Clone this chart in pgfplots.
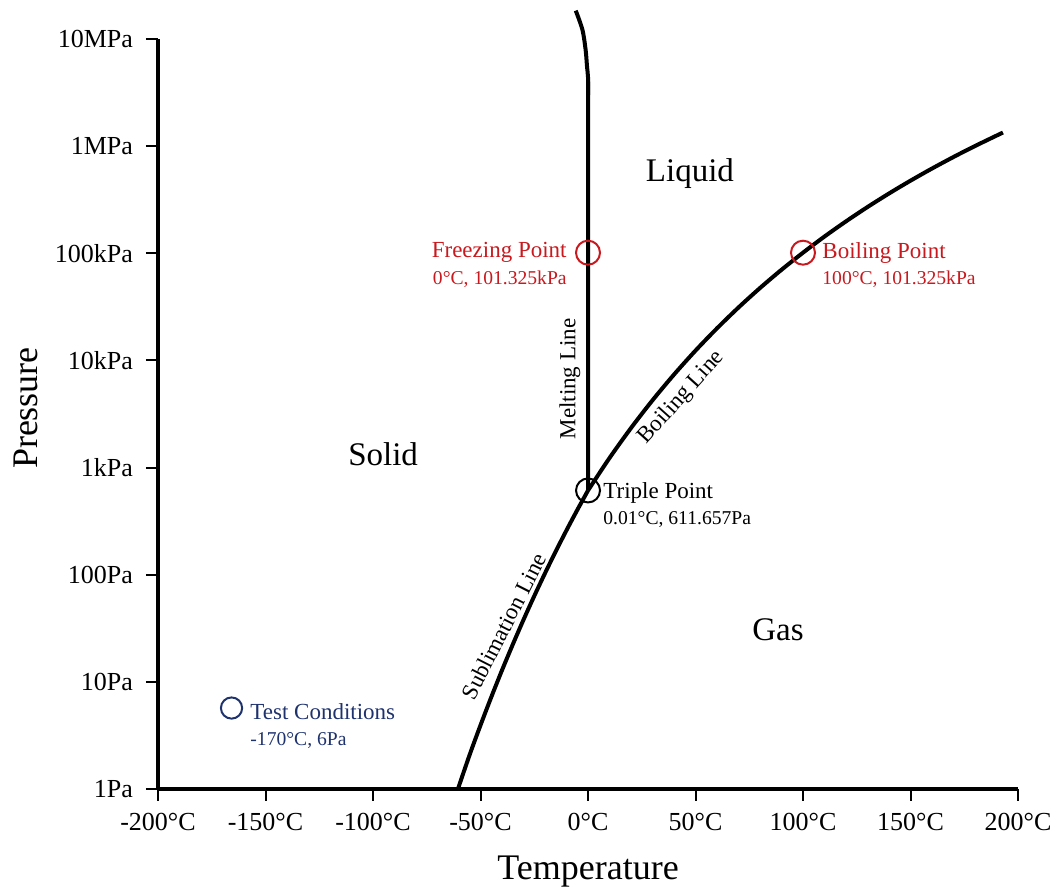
\documentclass[border=0pt]{standalone}
\usepackage{pgfplots}
\pgfplotsset{compat=1.18}
\usepackage{fontspec}
\setmainfont{Liberation Serif}
\definecolor{fpred}{RGB}{200,25,30}
\definecolor{tcnavy}{RGB}{30,50,110}
\newcommand{\ticksize}{\fontsize{13}{15}\selectfont}
\newcommand{\regsize}{\fontsize{16.5}{19}\selectfont}
\newcommand{\notesize}{\fontsize{11.5}{13}\selectfont}
\newcommand{\subsize}{\fontsize{9.8}{11}\selectfont}

\begin{document}
\begin{tikzpicture}[x=1pt,y=1pt]
\begin{axis}[
    at={(0,0)}, anchor=south west,
    scale only axis,
    width=430pt, height=375pt,
    xmin=-200, xmax=200,
    ymode=log, ymin=1, ymax=1e7,
    axis lines=left,
    axis line style={-, line width=2.1pt},
    tick align=outside,
    major tick length=6pt,
    yminorticks=false,
    every tick/.style={black, line width=1pt},
    xtick={-200,-150,...,200},
    xticklabels={-200°C,-150°C,-100°C,-50°C,0°C,50°C,100°C,150°C,200°C},
    ytick={1,10,100,1000,10000,100000,1000000,10000000},
    yticklabels={1Pa,10Pa,100Pa,1kPa,10kPa,100kPa,1MPa,10MPa},
    tick label style={font=\ticksize},
    xticklabel style={yshift=-2.5pt},
    yticklabel style={xshift=-3pt},
    xlabel={Temperature}, ylabel={Pressure},
    label style={font=\fontsize{18}{20}\selectfont},
    xlabel style={at={(axis description cs:0.5,-0.11)}, anchor=center},
    ylabel style={at={(axis description cs:-0.154,0.508)}, anchor=center},
    clip=false,
]
% sublimation line
\addplot[black, line width=2pt, smooth] coordinates {
(-60.5,1) (-55,2.1) (-50,3.94) (-45,7.2) (-40,12.84) (-35,22.3) (-30,38.0)
(-25,63.3) (-20,103.2) (-15,165.3) (-10,259.9) (-5,401.7) (0.01,611.657)};
% boiling line
\addplot[black, line width=2pt, smooth] coordinates {
(0.01,611.657) (10,1228) (20,2339) (30,4247) (40,7384) (50,12352) (60,19946)
(70,31201) (80,47414) (90,70182) (100,101325) (110,143380) (120,198670)
(130,270280) (140,361540) (150,476160) (160,618230) (170,792180)
(180,1002800) (193,1340000)};
% melting line
\addplot[black, line width=2pt] coordinates {(0.01,611.657) (0,4.0e6)};
\addplot[black, line width=2pt, smooth] coordinates {
(0,3.0e6) (0,4.4e6) (-0.45,5.5e6) (-1.1,7.9e6) (-2.6,1.22e7) (-5.7,1.84e7)};
% points
\addplot[only marks, mark=o, mark size=6pt, fpred, mark options={line width=1pt}]
  coordinates {(0,101325) (100,101325)};
\addplot[only marks, mark=o, mark size=6pt, black, mark options={line width=1pt}]
  coordinates {(0.01,611.657)};
\addplot[only marks, mark=o, mark size=5.3pt, tcnavy, mark options={line width=1pt}]
  coordinates {(-165.8,5.7)};

% region labels
\node[font=\regsize] at (axis cs:47.4,5.6e5) {Liquid};
\node[font=\regsize] at (axis cs:-95.3,1.32e3) {Solid};
\node[font=\regsize] at (axis cs:88.4,30.5) {Gas};
% line labels
\node[font=\notesize, rotate=90] at (axis cs:-8.4,6.7e3) {Melting Line};
\node[font=\notesize, rotate=48] at (axis cs:43.5,4.5e3) {Boiling Line};
\node[font=\notesize, rotate=63] at (axis cs:-39.2,33) {Sublimation Line};
% annotations
\node[font=\notesize, text=fpred, anchor=east, inner sep=0pt, xshift=-10.5pt] at (axis cs:0,101325) {Freezing Point};
\node[font=\subsize, text=fpred, anchor=east, inner sep=0pt, xshift=-10.5pt, yshift=-13.5pt] at (axis cs:0,101325) {0°C, 101.325kPa};
\node[font=\notesize, text=fpred, anchor=west, inner sep=0pt, xshift=9.5pt] at (axis cs:100,101325) {Boiling Point};
\node[font=\subsize, text=fpred, anchor=west, inner sep=0pt, xshift=9.5pt, yshift=-13.5pt] at (axis cs:100,101325) {100°C, 101.325kPa};
\node[font=\notesize, anchor=west, inner sep=0pt, xshift=7.5pt, yshift=-1.5pt] at (axis cs:0.01,611.657) {Triple Point};
\node[font=\subsize, anchor=west, inner sep=0pt, xshift=7.5pt, yshift=-14.5pt] at (axis cs:0.01,611.657) {0.01°C, 611.657Pa};
\node[font=\notesize, text=tcnavy, anchor=west, inner sep=0pt, xshift=9.25pt, yshift=-2pt] at (axis cs:-165.8,5.7) {Test Conditions};
\node[font=\subsize, text=tcnavy, anchor=west, inner sep=0pt, xshift=9.25pt, yshift=-16pt] at (axis cs:-165.8,5.7) {-170°C, 6Pa};
\end{axis}
\pgfresetboundingbox
\useasboundingbox (-79,-50.5) rectangle (450,394.5);
\end{tikzpicture}
\end{document}
